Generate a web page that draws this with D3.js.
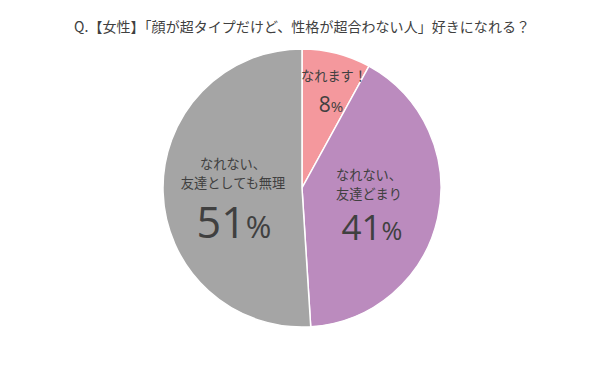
<!DOCTYPE html>
<html><head><meta charset="utf-8">
<script src="https://cdn.jsdelivr.net/npm/d3@7"></script>
<style>body{margin:0;background:#fff;}svg{display:block;}</style>
</head><body>
<script>
const title = "Q.【女性】「顔が超タイプだけど、性格が超合わない人」好きになれる？";
const categories = ["なれます！", "なれない、友達どまり", "なれない、友達としても無理"];
const labelLines = [["なれます！"], ["なれない、", "友達どまり"], ["なれない、", "友達としても無理"]];
const values = [8, 41, 51];
const colors = ["#f4989d", "#bb8bbe", "#a5a5a5"];

const W = 601, H = 370, cx = 302, cy = 188, R = 139;
const svg = d3.select("body").append("svg").attr("width", W).attr("height", H);
const font = "'Noto Sans CJK JP', 'Noto Sans', sans-serif";
const numFont = "'Open Sans', 'Noto Sans', sans-serif";

svg.append("text").attr("x", 302).attr("y", 32).attr("text-anchor", "middle")
  .attr("font-family", font).attr("font-size", 14).attr("fill", "#404040")
  .attr("textLength", 456).attr("lengthAdjust", "spacing").text(title);

const pie = d3.pie().sort(null).value(d => d)(values);
const arc = d3.arc().innerRadius(0).outerRadius(R);
const g = svg.append("g").attr("transform", `translate(${cx},${cy})`);
g.selectAll("path").data(pie).join("path").attr("d", arc)
  .attr("fill", (d, i) => colors[i]).attr("stroke", "#fff").attr("stroke-width", 1.5);

// label layout (offsets relative to center)
const lab = [
  {x: 32, y: -107, dy: 19, px: 29, py: -76, fs: 21},
  {x: 67, y: -8.5, dy: 19, px: 70, py: 52, fs: 35},
  {x: -69, y: -19, dy: 19, px: -68, py: 50, fs: 43}
];
const textColor = "#404040";
lab.forEach((L, i) => {
  const lt = g.append("text").attr("text-anchor", "middle")
    .attr("font-family", font).attr("font-size", 13.2).attr("fill", textColor);
  labelLines[i].forEach((ln, j) => {
    lt.append("tspan").attr("x", L.x).attr("y", L.y + j * L.dy).text(ln);
  });
  const t = g.append("text").attr("x", L.px).attr("y", L.py).attr("text-anchor", "middle")
    .attr("font-family", numFont).attr("fill", textColor);
  t.append("tspan").attr("font-size", L.fs).text(values[i]);
  t.append("tspan").attr("font-size", L.fs * 0.72).text("%");
});
</script>
</body></html>
